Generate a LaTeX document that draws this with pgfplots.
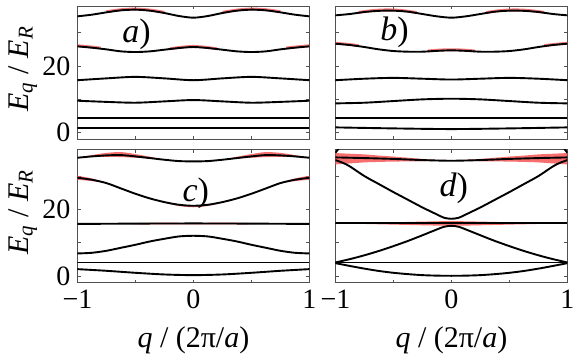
\documentclass[border=0pt]{standalone}
\usepackage{fontspec}
\setmainfont{Liberation Serif}
\usepackage{pgfplots}
\pgfplotsset{compat=1.18}
\usepgfplotslibrary{groupplots,fillbetween}
\definecolor{bandred}{RGB}{245,85,85}
\definecolor{framegray}{RGB}{80,80,80}
\begin{document}
\begin{tikzpicture}
\tikzset{plab/.style={font=\fontsize{17}{17}\selectfont}}
\pgfplotsset{
  band/.style={black, line width=0.95pt, smooth, no markers},
  redline/.style={bandred, line width=1.4pt, opacity=0.8, smooth, no markers},
  shade/.style={bandred, fill opacity=0.85, draw=none},
  edge/.style={draw=none, smooth, no markers, forget plot},
}
\begin{groupplot}[
  group style={group size=2 by 2, horizontal sep=13pt, vertical sep=5pt, group name=g},
  scale only axis, width=116pt, height=66.7pt,
  xmin=-1, xmax=1, ymin=-2, ymax=38,
  xtick={-1,-0.5,0,0.5,1}, ytick={0,10,20,30},
  tick align=inside, major tick length=1.6pt,
  axis line style={framegray, line width=0.5pt},
  tick style={framegray, line width=0.5pt},
  /pgf/number format/assume math mode=true,
  ticklabel style={font=\fontsize{14}{14}\selectfont},
  label style={font=\fontsize{15}{15}\selectfont},
  ylabel style={at={(axis description cs:-0.235,0.53)}, anchor=center},
  xlabel style={at={(axis description cs:0.5,-0.43)}, anchor=center},
  clip=true,
]
% ---------------- a)
\nextgroupplot[xticklabels={}, yticklabels={0,,20,},
  ylabel={\textit{E}\textsubscript{\textit{q}} / \textit{E}\textsubscript{\textit{R}}}]
\addplot[redline] coordinates {(-0.75,36.3)(-0.625,36.9)(-0.5,37.1)(-0.375,36.8)(-0.25,36.1)};
\addplot[redline] coordinates {(0.25,36.1)(0.375,36.8)(0.5,37.1)(0.625,36.9)(0.75,36.3)};
\addplot[redline] coordinates {(-0.2,25.2)(-0.1,25.65)(0,25.9)(0.1,25.65)(0.2,25.2)};
\addplot[redline] coordinates {(-1,26.1)(-0.875,25.7)(-0.8,25.4)};
\addplot[redline] coordinates {(0.8,25.4)(0.875,25.7)(1,26.1)};
\addplot[band] coordinates {(-1,34.9)(-0.875,35.4)(-0.75,36.1)(-0.625,36.7)(-0.5,36.9)(-0.375,36.6)(-0.25,35.9)(-0.125,35.0)(0,34.5)(0.125,35.0)(0.25,35.9)(0.375,36.6)(0.5,36.9)(0.625,36.7)(0.75,36.1)(0.875,35.4)(1,34.9)};
\addplot[band] coordinates {(-1,25.9)(-0.875,25.5)(-0.75,25.0)(-0.625,24.4)(-0.5,24.2)(-0.375,24.4)(-0.25,24.9)(-0.125,25.4)(0,25.7)(0.125,25.4)(0.25,24.9)(0.375,24.4)(0.5,24.2)(0.625,24.4)(0.75,25.0)(0.875,25.5)(1,25.9)};
\addplot[band] coordinates {(-1,15.75)(-0.75,16.3)(-0.5,16.75)(-0.25,16.3)(0,15.75)(0.25,16.3)(0.5,16.75)(0.75,16.3)(1,15.75)};
\addplot[band] coordinates {(-1,9.6)(-0.75,9.25)(-0.5,9.0)(-0.25,9.4)(0,9.8)(0.25,9.4)(0.5,9.0)(0.75,9.25)(1,9.6)};
\addplot[band] coordinates {(-1,4.3)(0,4.3)(1,4.3)};
\addplot[band] coordinates {(-1,1.3)(0,1.3)(1,1.3)};
\node[plab] at (axis cs:-0.49,29.4) {\textit{a})};
% ---------------- b)
\nextgroupplot[xticklabels={}, yticklabels={}]
\addplot[redline] coordinates {(-0.8,36.1)(-0.675,36.65)(-0.55,36.85)(-0.425,36.65)(-0.3,36.05)};
\addplot[redline] coordinates {(0.3,36.05)(0.425,36.65)(0.55,36.85)(0.675,36.65)(0.8,36.1)};
\addplot[redline] coordinates {(-0.2,24.55)(-0.1,24.8)(0,24.9)(0.1,24.8)(0.2,24.55)};
\addplot[redline] coordinates {(-1,26.85)(-0.875,26.45)(-0.8,26.1)};
\addplot[redline] coordinates {(0.8,26.1)(0.875,26.45)(1,26.85)};
\addplot[band] coordinates {(-1,35.2)(-0.875,35.6)(-0.75,36.2)(-0.625,36.55)(-0.5,36.6)(-0.375,36.3)(-0.25,35.6)(-0.125,34.9)(0,34.5)(0.125,34.9)(0.25,35.6)(0.375,36.3)(0.5,36.6)(0.625,36.55)(0.75,36.2)(0.875,35.6)(1,35.2)};
\addplot[band] coordinates {(-1,26.7)(-0.875,26.3)(-0.75,25.7)(-0.625,25.0)(-0.5,24.5)(-0.375,24.3)(-0.25,24.3)(-0.125,24.55)(0,24.7)(0.125,24.55)(0.25,24.3)(0.375,24.3)(0.5,24.5)(0.625,25.0)(0.75,25.7)(0.875,26.3)(1,26.7)};
\addplot[band] coordinates {(-1,15.75)(-0.75,16.2)(-0.5,16.45)(-0.25,16.2)(0,15.95)(0.25,16.2)(0.5,16.45)(0.75,16.2)(1,15.75)};
\addplot[band] coordinates {(-1,8.8)(-0.75,9.0)(-0.5,9.5)(-0.25,10.0)(0,10.2)(0.25,10.0)(0.5,9.5)(0.75,9.0)(1,8.8)};
\addplot[band] coordinates {(-1,4.3)(0,4.3)(1,4.3)};
\addplot[band] coordinates {(-1,1.6)(-0.5,1.3)(0,1.1)(0.5,1.3)(1,1.6)};
\node[plab] at (axis cs:-0.49,30.0) {\textit{b})};
% ---------------- c)
\nextgroupplot[xticklabels={−1,,0,,1}, yticklabels={0,,20,},
  ylabel={\textit{E}\textsubscript{\textit{q}} / \textit{E}\textsubscript{\textit{R}}},
  xlabel={\textit{q} / (2π/\textit{a})}]
\addplot[edge, name path=cu1] coordinates {(-0.95,35.8)(-0.875,36.3)(-0.75,36.95)(-0.625,37.2)(-0.5,36.6)(-0.375,35.8)(-0.3,35.25)};
\addplot[edge, name path=cl1] coordinates {(-0.95,35.8)(-0.875,35.8)(-0.75,35.75)(-0.625,35.7)(-0.5,35.5)(-0.375,35.3)(-0.3,35.25)};
\addplot[shade] fill between[of=cu1 and cl1];
\addplot[edge, name path=cu2] coordinates {(0.3,35.25)(0.375,35.8)(0.5,36.6)(0.625,37.2)(0.75,36.95)(0.875,36.3)(0.95,35.8)};
\addplot[edge, name path=cl2] coordinates {(0.3,35.25)(0.375,35.3)(0.5,35.5)(0.625,35.7)(0.75,35.75)(0.875,35.8)(0.95,35.8)};
\addplot[shade] fill between[of=cu2 and cl2];
\addplot[edge, name path=cu3] coordinates {(-1,30.1)(-0.875,29.3)(-0.75,27.95)};
\addplot[edge, name path=cl3] coordinates {(-1,28.9)(-0.875,28.5)(-0.75,27.85)};
\addplot[shade] fill between[of=cu3 and cl3];
\addplot[edge, name path=cu4] coordinates {(0.75,27.95)(0.875,29.3)(1,30.1)};
\addplot[edge, name path=cl4] coordinates {(0.75,27.85)(0.875,28.5)(1,28.9)};
\addplot[shade] fill between[of=cu4 and cl4];
\addplot[edge, name path=cu5] coordinates {(-0.3,22.6)(-0.15,21.55)(0,21.2)(0.15,21.55)(0.3,22.6)};
\addplot[edge, name path=cl5] coordinates {(-0.3,22.6)(-0.15,21.2)(0,20.65)(0.15,21.2)(0.3,22.6)};
\addplot[shade] fill between[of=cu5 and cl5];
\addplot[edge, name path=cu6] coordinates {(-0.6,15.75)(-0.4,16.0)(0,16.0)(0.4,16.0)(0.6,15.75)};
\addplot[edge, name path=cl6] coordinates {(-0.6,15.75)(-0.4,15.5)(0,15.55)(0.4,15.5)(0.6,15.75)};
\addplot[shade] fill between[of=cu6 and cl6];
\addplot[band] coordinates {(-1,35.5)(-0.875,35.9)(-0.75,36.2)(-0.625,36.3)(-0.5,35.9)(-0.375,35.4)(-0.25,34.9)(-0.125,34.5)(0,34.4)(0.125,34.5)(0.25,34.9)(0.375,35.4)(0.5,35.9)(0.625,36.3)(0.75,36.2)(0.875,35.9)(1,35.5)};
\addplot[band] coordinates {(-1,29.5)(-0.875,28.9)(-0.75,27.9)(-0.625,26.3)(-0.5,24.7)(-0.375,23.3)(-0.25,22.2)(-0.125,21.4)(0,21.1)(0.125,21.4)(0.25,22.2)(0.375,23.3)(0.5,24.7)(0.625,26.3)(0.75,27.9)(0.875,28.9)(1,29.5)};
\addplot[band] coordinates {(-1,15.65)(-0.5,15.75)(0,15.8)(0.5,15.75)(1,15.65)};
\addplot[band] coordinates {(-1,6.8)(-0.875,7.0)(-0.75,7.6)(-0.625,8.5)(-0.5,9.4)(-0.375,10.4)(-0.25,11.2)(-0.125,11.9)(0,12.1)(0.125,11.9)(0.25,11.2)(0.375,10.4)(0.5,9.4)(0.625,8.5)(0.75,7.6)(0.875,7.0)(1,6.8)};
\addplot[band] coordinates {(-1,4.1)(0,4.1)(1,4.1)};
\addplot[band] coordinates {(-1,2.1)(-0.75,1.6)(-0.5,1.0)(-0.25,0.5)(0,0.3)(0.25,0.5)(0.5,1.0)(0.75,1.6)(1,2.1)};
\node[plab] at (axis cs:0.02,24.8) {\textit{c})};
% ---------------- d)
\nextgroupplot[xticklabels={−1,,0,,1}, yticklabels={},
  xlabel={\textit{q} / (2π/\textit{a})}]
\addplot[edge, name path=du1] coordinates {(-1,36.9)(-0.875,36.7)(-0.75,36.5)(-0.625,36.15)(-0.5,35.85)(-0.375,35.5)(-0.25,35.15)(-0.125,34.85)(0,34.62)(0.125,34.85)(0.25,35.15)(0.375,35.5)(0.5,35.85)(0.625,36.15)(0.75,36.5)(0.875,36.7)(1,36.9)};
\addplot[edge, name path=dl1] coordinates {(-1,33.5)(-0.875,33.8)(-0.75,34.1)(-0.625,34.25)(-0.5,34.35)(-0.375,34.4)(-0.25,34.45)(-0.125,34.55)(0,34.58)(0.125,34.55)(0.25,34.45)(0.375,34.4)(0.5,34.35)(0.625,34.25)(0.75,34.1)(0.875,33.8)(1,33.5)};
\addplot[shade] fill between[of=du1 and dl1];
\addplot[edge, name path=du2] coordinates {(-0.875,15.8)(-0.75,15.95)(-0.5,16.15)(-0.25,16.35)(0,16.5)(0.25,16.35)(0.5,16.15)(0.75,15.95)(0.875,15.8)};
\addplot[edge, name path=dl2] coordinates {(-0.875,15.8)(-0.75,15.65)(-0.5,15.45)(-0.25,15.25)(0,15.1)(0.25,15.25)(0.5,15.45)(0.75,15.65)(0.875,15.8)};
\addplot[shade] fill between[of=du2 and dl2];
\addplot[band] coordinates {(-1,3.9)(-0.875,3.05)(-0.75,2.25)(-0.625,1.55)(-0.5,1.0)(-0.375,0.6)(-0.25,0.3)(-0.125,0.15)(0,0.1)(0.125,0.15)(0.25,0.3)(0.375,0.6)(0.5,1.0)(0.625,1.55)(0.75,2.25)(0.875,3.05)(1,3.9)};
\addplot[band] coordinates {(-1,4.1)(0,4.1)(1,4.1)};
\addplot[band] coordinates {(-1,4.1)(-0.875,5.1)(-0.75,6.25)(-0.625,7.55)(-0.5,9.0)(-0.375,10.55)(-0.25,12.25)(-0.125,14.0)(-0.0625,14.8)(0,15.1)(0.0625,14.8)(0.125,14.0)(0.25,12.25)(0.375,10.55)(0.5,9.0)(0.625,7.55)(0.75,6.25)(0.875,5.1)(1,4.1)};
\addplot[band] coordinates {(-1,15.8)(0,15.8)(1,15.8)};
\addplot[band] coordinates {(-1,34.8)(-0.9375,34.0)(-0.875,32.9)(-0.75,30.0)(-0.625,27.6)(-0.5,25.2)(-0.375,22.9)(-0.25,20.6)(-0.125,18.5)(-0.0625,17.5)(0,17.2)(0.0625,17.5)(0.125,18.5)(0.25,20.6)(0.375,22.9)(0.5,25.2)(0.625,27.6)(0.75,30.0)(0.875,32.9)(0.9375,34.0)(1,34.8)};
\addplot[band] coordinates {(-1,35.6)(-0.75,35.4)(-0.5,35.15)(-0.25,34.8)(0,34.6)(0.25,34.8)(0.5,35.15)(0.75,35.4)(1,35.6)};
\addplot[band] coordinates {(-1,37.0)(-0.97,38.3)(-0.94,39.5)};
\addplot[band] coordinates {(0.94,39.5)(0.97,38.3)(1,37.0)};
\node[plab] at (axis cs:0.02,26.3) {\textit{d})};
\end{groupplot}
\path (g c1r1.north west) ++(-38.7pt,3pt) coordinate (tl);
\path (g c2r2.south east) ++(7.3pt,-35.3pt) coordinate (br);
\pgfresetboundingbox
\useasboundingbox (tl) rectangle (br);
\end{tikzpicture}
\end{document}
